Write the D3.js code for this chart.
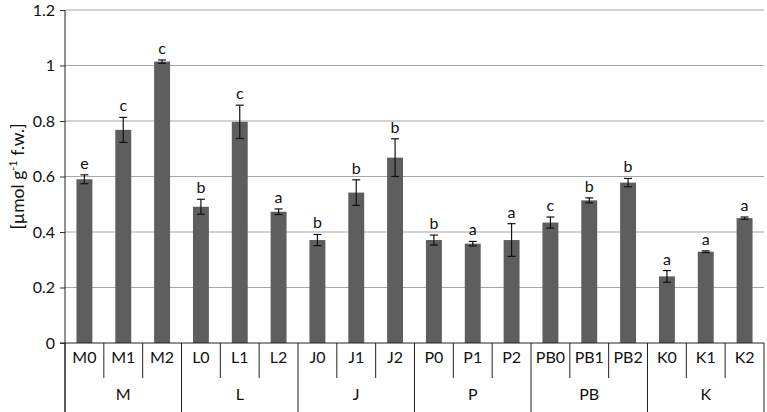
<!DOCTYPE html>
<html><head><meta charset="utf-8">
<script src="https://cdn.jsdelivr.net/npm/d3@7"></script>
<style>body{margin:0;background:#fff}svg{display:block}text{font-family:Lato,"Open Sans",sans-serif;fill:#111}</style>
</head><body><svg id="c" width="767" height="412"></svg>
<script>
const categories = ["M0","M1","M2","L0","L1","L2","J0","J1","J2","P0","P1","P2","PB0","PB1","PB2","K0","K1","K2"];
const groups = ["M","L","J","P","PB","K"];
const values = [0.59,0.768,1.014,0.491,0.797,0.473,0.371,0.542,0.668,0.371,0.358,0.371,0.434,0.514,0.578,0.240,0.329,0.450];
const errors = [0.016,0.045,0.006,0.027,0.06,0.01,0.02,0.046,0.068,0.018,0.008,0.059,0.02,0.009,0.015,0.021,0.003,0.004];
const letters = ["e","c","c","b","c","a","b","b","b","b","a","a","c","b","b","a","a","a"];
const yTicks = [0,0.2,0.4,0.6,0.8,1,1.2];

const svg = d3.select("#c");
const L = 65, R = 764, T = 10, B = 343;
const FS = "16px";
const x = d3.scaleBand().domain(categories).range([L, R]).paddingInner(0.59).paddingOuter(0.295);
const y = d3.scaleLinear().domain([0, 1.2]).range([B, T]);

// grid
svg.append("g").selectAll("line").data(yTicks.filter(d => d > 0)).join("line")
  .attr("x1", L).attr("x2", R).attr("y1", d => y(d)).attr("y2", d => y(d))
  .attr("stroke", "#a6a6a6").attr("stroke-width", 1.2);

// y axis
const ya = svg.append("g").attr("transform", `translate(${L},0)`)
  .call(d3.axisLeft(y).tickValues(yTicks).tickFormat(d3.format("~g")).tickSize(5).tickPadding(5));
ya.select(".domain").remove();
ya.selectAll(".tick line").attr("stroke", "#333");
ya.selectAll("text").style("font-size", FS).attr("fill", "#111");
svg.append("line").attr("x1", L).attr("x2", L).attr("y1", T).attr("y2", 412).attr("stroke", "#222").attr("stroke-width", 1);

// bars
svg.append("g").selectAll("rect").data(categories).join("rect")
  .attr("x", d => x(d)).attr("width", x.bandwidth())
  .attr("y", (d, i) => y(values[i])).attr("height", (d, i) => B - y(values[i]))
  .attr("fill", "#5e5e5e");

// error bars
const eg = svg.append("g").attr("stroke", "#111").attr("stroke-width", 1.2);
categories.forEach((c, i) => {
  const cx = x(c) + x.bandwidth() / 2;
  const y1 = y(values[i] + errors[i]), y2 = y(values[i] - errors[i]);
  eg.append("line").attr("x1", cx).attr("x2", cx).attr("y1", y1).attr("y2", y2);
  eg.append("line").attr("x1", cx - 4).attr("x2", cx + 4).attr("y1", y1).attr("y2", y1);
  eg.append("line").attr("x1", cx - 4).attr("x2", cx + 4).attr("y1", y2).attr("y2", y2);
});

// letters
svg.append("g").selectAll("text").data(categories).join("text")
  .attr("x", d => x(d) + x.bandwidth() / 2)
  .attr("y", (d, i) => y(values[i] + errors[i]) - 6)
  .attr("text-anchor", "middle").style("font-size", FS)
  .text((d, i) => letters[i]);

// x axis baseline
svg.append("line").attr("x1", L - 5).attr("x2", R).attr("y1", B).attr("y2", B).attr("stroke", "#222");

// category dividers & labels
const step = x.step();
const cg = svg.append("g");
categories.forEach((c, i) => {
  const left = L + i * step;
  const isGroup = i % 3 === 0;
  cg.append("line").attr("x1", left).attr("x2", left).attr("y1", B).attr("y2", isGroup ? 412 : 378)
    .attr("stroke", "#222");
  cg.append("text").attr("x", left + step / 2).attr("y", 363).attr("text-anchor", "middle")
    .style("font-size", FS).text(c);
});
cg.append("line").attr("x1", R).attr("x2", R).attr("y1", B).attr("y2", 412).attr("stroke", "#222");
groups.forEach((g, j) => {
  cg.append("text").attr("x", L + (j * 3 + 1.5) * step).attr("y", 400).attr("text-anchor", "middle")
    .style("font-size", FS).text(g);
});

// y label
const yl = svg.append("text").attr("transform", `translate(24,${(T + B) / 2}) rotate(-90)`)
  .attr("text-anchor", "middle").style("font-size", "17.5px");
yl.append("tspan").text("[µmol g");
yl.append("tspan").attr("dy", -7).style("font-size", "11px").text("-1");
yl.append("tspan").attr("dy", 7).text(" f.w.]");
</script></body></html>
